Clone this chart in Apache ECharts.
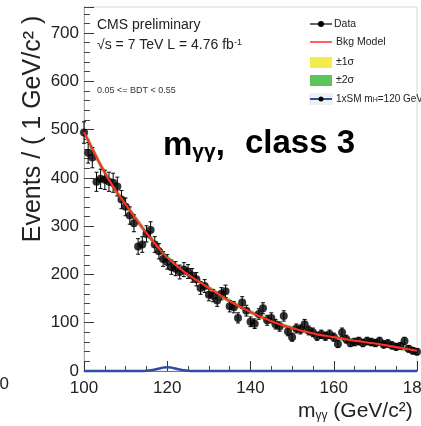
<!DOCTYPE html>
<html>
<head>
<meta charset="utf-8">
<script src="https://cdn.jsdelivr.net/npm/echarts@6/dist/echarts.min.js"></script>
<style>
html,body{margin:0;padding:0;background:#fff;}
#chart{width:421px;height:426px;}
</style>
</head>
<body>
<div id="chart"></div>
<script>
// Diphoton invariant mass, 1 GeV bins from 100 to 180 GeV
const dataMass = [100,101,102,103,104,105,106,107,108,109,110,111,112,113,114,115,116,117,118,119,
  120,121,122,123,124,125,126,127,128,129,130,131,132,133,134,135,136,137,138,139,
  140,141,142,143,144,145,146,147,148,149,150,151,152,153,154,155,156,157,158,159,
  160,161,162,163,164,165,166,167,168,169,170,171,172,173,174,175,176,177,178,179,180];
const dataCounts = [494,452,442,392,398,396,392,390,382,355,340,322,306,258,262,284,292,262,248,232,
  226,215,212,205,210,206,198,190,172,176,158,156,146,160,165,134,132,110,142,125,
  102,98,118,130,105,110,97,92,114,82,70,88,86,97,84,80,72,76,72,76,
  70,56,80,66,58,60,62,58,62,60,58,62,55,57,53,50,52,62,46,42,40];

// Background model and its 1 sigma uncertainty, sampled every 2 GeV
const bkgMass = [100,102,104,106,108,110,112,114,116,118,120,122,124,126,128,130,132,134,136,138,
  140,142,144,146,148,150,152,154,156,158,160,162,164,166,168,170,172,174,176,178,180];
const bkgFit = [495,460,426,396,369,345,321,297,275,254,235,220,206,194,183,172,161,150,140,131,
  122,114,107,100,94,89,84,80,76,73,70,67,64,62,59,57,54,51,48,45,42];
const bkgSigma = [3.4,3.2,3.0,2.9,2.8,2.7,2.6,2.5,2.4,2.3,2.2,2.2,2.1,2.1,2.0,2.0,2.0,1.9,1.9,1.9,
  1.8,1.8,1.8,1.8,1.7,1.7,1.7,1.7,1.7,1.7,1.7,1.7,1.7,1.7,1.8,1.8,1.8,1.9,1.9,2.0,2.1];

// Expected SM Higgs signal, m_H = 120 GeV
const sigMass = [100,114,115,116,117,118,119,120,121,122,123,124,125,126,180];
const sigCounts = [0,0,0.5,1.5,3,5,7,8,7,5,3,1.5,0.5,0,0];

const xTicks = {min: 100, max: 180, major: 20};
const yTicks = {min: 0, max: 754, major: 100, minor: 20};

const FONT = '"Liberation Sans", Arial, Helvetica, sans-serif';
const C_YELLOW = '#f2ec4c';
const C_GREEN = '#5cc45a';
const C_RED = '#ff2d2d';
const C_BLUE = '#2f4ea6';

const pairs = (xs, ys) => xs.map((x, i) => [x, ys[i]]);
const errData = dataMass.map((m, i) => [m, dataCounts[i], Math.sqrt(dataCounts[i])]);

// band segments between neighbouring samples: [x0, x1, lo0, hi0, lo1, hi1]
function bandSegments(nSigma) {
  const out = [];
  for (let i = 0; i < bkgMass.length - 1; i++) {
    const s0 = nSigma * bkgSigma[i], s1 = nSigma * bkgSigma[i + 1];
    out.push([bkgMass[i], bkgMass[i + 1], bkgFit[i] - s0, bkgFit[i] + s0, bkgFit[i + 1] - s1, bkgFit[i + 1] + s1]);
  }
  return out;
}
function bandSeries(name, nSigma, color, z) {
  return {
    name, type: 'custom', z, silent: true,
    renderItem: (params, api) => {
      const a = api.coord([api.value(0), api.value(2)]);
      const b = api.coord([api.value(0), api.value(3)]);
      const c = api.coord([api.value(1), api.value(5)]);
      const d = api.coord([api.value(1), api.value(4)]);
      return {type: 'polygon', shape: {points: [a, b, c, d]},
        style: {fill: color, stroke: color, lineWidth: 0.6}};
    },
    data: bandSegments(nSigma)
  };
}

const chart = echarts.init(document.getElementById('chart'), null, {renderer: 'canvas'});

chart.setOption({
  animation: false,
  backgroundColor: '#fff',
  grid: {left: 84, right: 4, top: 7, bottom: 55, outerBoundsMode: 'none', containLabel: false,
    show: true, borderColor: '#d8d8d8', borderWidth: 1},
  xAxis: {
    type: 'value', min: xTicks.min, max: xTicks.max, interval: xTicks.major,
    axisLine: {show: true, lineStyle: {color: '#777', width: 1}},
    axisTick: {show: true, inside: true, length: 10, lineStyle: {color: '#333'}},
    minorTick: {show: true, splitNumber: 4, length: 5, lineStyle: {color: '#444'}},
    axisLabel: {fontSize: 17, fontFamily: FONT, color: '#222', margin: 9, hideOverlap: false},
    splitLine: {show: false}
  },
  yAxis: [{
    type: 'value', min: yTicks.min, max: yTicks.max, interval: yTicks.major,
    axisLine: {show: true, lineStyle: {color: '#aaa', width: 1}},
    axisTick: {show: true, inside: true, length: 10, lineStyle: {color: '#333'}},
    axisLabel: {fontSize: 17, fontFamily: FONT, color: '#222', margin: 5,
      formatter: v => (v % yTicks.major === 0 ? String(v) : '')},
    splitLine: {show: false}
  }, {
    type: 'value', position: 'left', min: yTicks.min, max: yTicks.max, interval: yTicks.minor,
    axisLine: {show: false},
    axisTick: {show: true, inside: true, length: 6, lineStyle: {color: '#444'}},
    axisLabel: {show: false},
    splitLine: {show: false}
  }],
  series: [
    bandSeries('±2σ', 2, C_GREEN, 2),
    bandSeries('±1σ', 1, C_YELLOW, 3),
    {
      name: 'Data errors', type: 'custom', z: 4, silent: true,
      renderItem: (params, api) => {
        const x = api.value(0), y = api.value(1), e = api.value(2);
        const t = api.coord([x, y + e]);
        const b = api.coord([x, y - e]);
        const cap = 2;
        const st = {stroke: '#000', lineWidth: 1};
        return {type: 'group', children: [
          {type: 'line', shape: {x1: t[0], y1: t[1], x2: b[0], y2: b[1]}, style: st},
          {type: 'line', shape: {x1: t[0] - cap, y1: t[1], x2: t[0] + cap, y2: t[1]}, style: st},
          {type: 'line', shape: {x1: b[0] - cap, y1: b[1], x2: b[0] + cap, y2: b[1]}, style: st}
        ]};
      },
      data: errData
    },
    {
      name: 'Data', type: 'scatter', z: 5, symbol: 'circle', symbolSize: 8,
      itemStyle: {color: '#000'}, data: pairs(dataMass, dataCounts)
    },
    {
      name: 'Bkg Model', type: 'line', z: 6, smooth: 0.3, symbol: 'none',
      lineStyle: {color: C_RED, width: 2.2}, data: pairs(bkgMass, bkgFit)
    },
    {
      name: '1xSM mH=120 GeV', type: 'line', z: 7, smooth: 0.4, symbol: 'none', clip: false,
      lineStyle: {color: C_BLUE, width: 2.5}, data: pairs(sigMass, sigCounts)
    }
  ],
  graphic: [
    // axis titles
    {type: 'text', x: 33, y: 129, rotation: Math.PI / 2, silent: true,
      style: {text: 'Events / ( 1 GeV/c² )', fontSize: 25, fontFamily: FONT, fill: '#222',
        align: 'center', verticalAlign: 'middle'}},
    {type: 'text', x: 298, y: 411, silent: true,
      style: {text: '{m|m}{s|γγ}{m| (GeV/c²)}', fontFamily: FONT, fill: '#222',
        verticalAlign: 'middle',
        rich: {m: {fontSize: 21, fontFamily: FONT, fill: '#222'},
               s: {fontSize: 12, fontFamily: FONT, fill: '#222', verticalAlign: 'bottom'}}}},
    {type: 'text', x: 9, y: 384, silent: true,
      style: {text: '0', fontSize: 17, fontFamily: FONT, fill: '#222', align: 'right', verticalAlign: 'middle'}},
    // header text
    {type: 'text', x: 97, y: 25, silent: true,
      style: {text: 'CMS preliminary', fontSize: 14, fontFamily: FONT, fill: '#222', verticalAlign: 'middle'}},
    {type: 'text', x: 97, y: 45, silent: true,
      style: {text: '√s = 7 TeV L = 4.76 fb{sup|-1}', fontSize: 14, fontFamily: FONT, fill: '#222',
        verticalAlign: 'middle',
        rich: {sup: {fontSize: 9, fontFamily: FONT, fill: '#222', verticalAlign: 'top'}}}},
    {type: 'text', x: 97, y: 91, silent: true,
      style: {text: '0.05 <= BDT < 0.55', fontSize: 9, fontFamily: FONT, fill: '#333', verticalAlign: 'middle'}},
    // category title
    {type: 'text', x: 163, y: 146, silent: true,
      style: {text: '{m|m}{s|γγ}{m|,}', fontFamily: FONT, fill: '#000', verticalAlign: 'middle',
        rich: {m: {fontSize: 33, fontWeight: 'bold', fontFamily: FONT, fill: '#000'},
               s: {fontSize: 21, fontWeight: 'bold', fontFamily: FONT, fill: '#000', verticalAlign: 'bottom'}}}},
    {type: 'text', x: 245, y: 144, silent: true,
      style: {text: 'class 3', fontSize: 33, fontWeight: 'bold', fontFamily: FONT, fill: '#000', verticalAlign: 'middle'}},
    // legend
    {type: 'line', shape: {x1: 310, y1: 24, x2: 332, y2: 24}, style: {stroke: '#000', lineWidth: 1.2}, silent: true},
    {type: 'circle', shape: {cx: 321, cy: 24, r: 3}, style: {fill: '#000'}, silent: true},
    {type: 'text', x: 334, y: 24, silent: true,
      style: {text: 'Data', fontSize: 10.5, fontFamily: FONT, fill: '#222', verticalAlign: 'middle'}},
    {type: 'line', shape: {x1: 310, y1: 42, x2: 332, y2: 42}, style: {stroke: C_RED, lineWidth: 1.5}, silent: true},
    {type: 'text', x: 336, y: 42, silent: true,
      style: {text: 'Bkg Model', fontSize: 10.5, fontFamily: FONT, fill: '#222', verticalAlign: 'middle'}},
    {type: 'rect', shape: {x: 310, y: 57, width: 22, height: 11}, style: {fill: C_YELLOW}, silent: true},
    {type: 'text', x: 336, y: 62, silent: true,
      style: {text: '±1σ', fontSize: 10.5, fontFamily: FONT, fill: '#222', verticalAlign: 'middle'}},
    {type: 'rect', shape: {x: 310, y: 75, width: 22, height: 11}, style: {fill: C_GREEN}, silent: true},
    {type: 'text', x: 336, y: 80, silent: true,
      style: {text: '±2σ', fontSize: 10.5, fontFamily: FONT, fill: '#222', verticalAlign: 'middle'}},
    {type: 'rect', shape: {x: 309, y: 93, width: 24, height: 12}, style: {fill: '#f0f0f0'}, silent: true},
    {type: 'line', shape: {x1: 310, y1: 99, x2: 332, y2: 99}, style: {stroke: C_BLUE, lineWidth: 2}, silent: true},
    {type: 'circle', shape: {cx: 321, cy: 99, r: 2.5}, style: {fill: '#000'}, silent: true},
    {type: 'text', x: 336, y: 99, silent: true,
      style: {text: '1xSM m{s|H}=120 GeV', fontSize: 10, fontFamily: FONT, fill: '#222', verticalAlign: 'middle',
        rich: {s: {fontSize: 7, fontFamily: FONT, fill: '#222', verticalAlign: 'bottom'}}}}
  ]
});
</script>
</body>
</html>
